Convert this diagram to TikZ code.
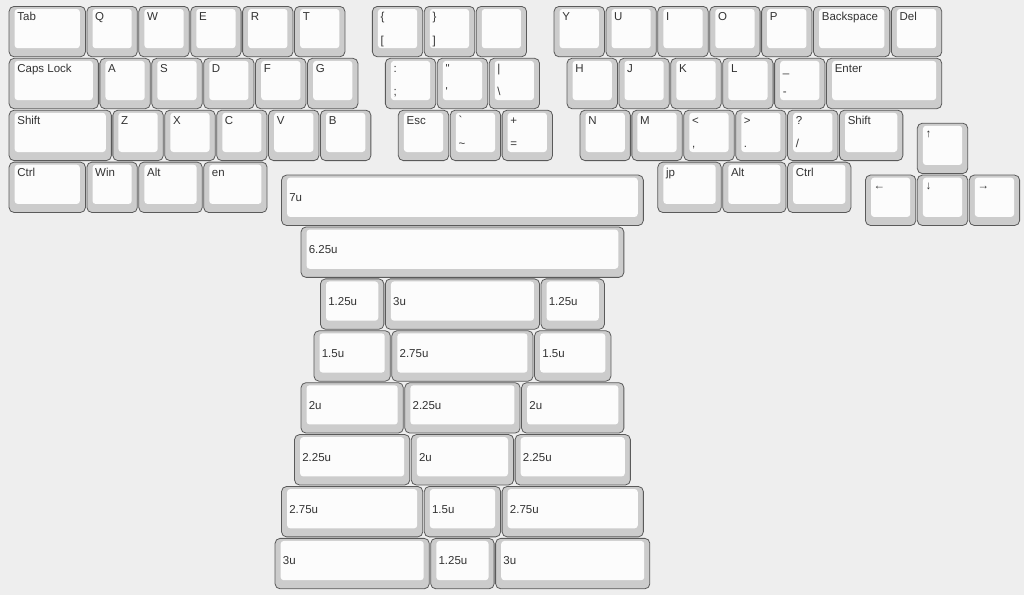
\documentclass[tikz,border=0pt]{standalone}
\usepackage{fontspec}
\usepackage{tikz}
\newfontfamily\kbfont{Liberation Sans}

\definecolor{kbbg}{HTML}{EEEEEE}
\definecolor{kbside}{HTML}{CCCCCC}
\definecolor{kbedge}{HTML}{5A5A5A}
\definecolor{kbtop}{HTML}{FCFCFC}
\definecolor{kbtext}{HTML}{333333}

\tikzset{
  keycap/.style={draw=kbedge, fill=kbside, line width=0.8pt, rounded corners=5pt,
    minimum height=50.4pt, inner sep=0pt, anchor=north west},
  keytop/.style={fill=kbtop, rounded corners=3pt},
  legend/.style={anchor=base west, inner sep=0pt, text=kbtext,
    font=\kbfont\fontsize{11.5}{13}\selectfont},
}

% cap: name, x, y, width (in units of 51.9px)
\newcommand\kbcap[4]{%
  \node[keycap, minimum width={#4*51.9-1.5}] (#1) at ({8.67+51.9*#2},{6+51.9*#3}) {};
  \fill[keytop] ([xshift=6pt,yshift=-3pt]#1.north west) rectangle ([xshift=-6pt,yshift=9pt]#1.south east);
}
% key with top and bottom legend
\newcommand\kbkey[6]{%
  \kbcap{#1}{#2}{#3}{#4}
  \node[legend] (#1-t) at ([xshift=8.5pt,yshift=-14.7pt]#1.north west) {#5};
  \if\relax\detokenize{#6}\relax\else
  \node[legend] (#1-b) at ([xshift=8.5pt,yshift=-38pt]#1.north west) {#6};\fi
}
% spacebar with its size
\newcommand\kbbar[4]{%
  \kbcap{#1}{#2}{#3}{#4}
  \node[legend] (#1-t) at ([xshift=8pt,yshift=-27pt]#1.north west) {#4u};
}

\begin{document}
\begin{tikzpicture}[x=1pt, y=-1pt]
\fill[kbbg] (0,0) rectangle (1024,595);
\useasboundingbox (0,0) rectangle (1024,595);

% number row is gone: top row
\foreach \n/\x/\w/\a/\b in {tab/0/1.5/Tab/{}, q/1.5/1/Q/{}, w/2.5/1/W/{}, e/3.5/1/E/{}, r/4.5/1/R/{}, t/5.5/1/T/{},
  lbrace/7/1/\{/[, rbrace/8/1/\}/], blank/9/1/{}/{},
  y/10.5/1/Y/{}, u/11.5/1/U/{}, i/12.5/1/I/{}, o/13.5/1/O/{}, p/14.5/1/P/{}, bksp/15.5/1.5/Backspace/{}, del/17/1/Del/{}}
  \kbkey{\n}{\x}{0}{\w}{\a}{\b};

% home row
\foreach \n/\x/\w/\a/\b in {caps/0/1.75/Caps Lock/{}, a/1.75/1/A/{}, s/2.75/1/S/{}, d/3.75/1/D/{}, f/4.75/1/F/{}, g/5.75/1/G/{},
  colon/7.25/1/:/;, quote/8.25/1/\textquotedbl/\textquotesingle, pipe/9.25/1/|/\textbackslash,
  h/10.75/1/H/{}, j/11.75/1/J/{}, k/12.75/1/K/{}, l/13.75/1/L/{}, minus/14.75/1/\_/-, enter/15.75/2.25/Enter/{}}
  \kbkey{\n}{\x}{1}{\w}{\a}{\b};

% shift row
\foreach \n/\x/\w/\a/\b in {lshift/0/2/Shift/{}, z/2/1/Z/{}, x/3/1/X/{}, c/4/1/C/{}, v/5/1/V/{}, b/6/1/B/{},
  esc/7.5/1/Esc/{}, tilde/8.5/1/\textasciigrave/\textasciitilde, plus/9.5/1/+/=,
  n/11/1/N/{}, m/12/1/M/{}, comma/13/1/</{,}, period/14/1/>/., slash/15/1/?/\slash, rshift/16/1.25/Shift/{}}
  \kbkey{\n}{\x}{2}{\w}{\a}{\b};

% bottom row
\foreach \n/\x/\w/\a in {lctrl/0/1.5/Ctrl, win/1.5/1/Win, lalt/2.5/1.25/Alt, en/3.75/1.25/en,
  jp/12.5/1.25/jp, ralt/13.75/1.25/Alt, rctrl/15/1.25/Ctrl}
  \kbkey{\n}{\x}{3}{\w}{\a}{};

% arrows
\kbkey{up}{17.5}{2.25}{1}{↑}{}
\foreach \n/\x/\a in {left/16.5/←, down/17.5/↓, right/18.5/→}
  \kbkey{\n}{\x}{3.25}{1}{\a}{};

% spacebar options
\foreach \x/\y/\w [count=\i] in {5.25/3.25/7, 5.625/4.25/6.25,
  6/5.25/1.25, 7.25/5.25/3, 10.25/5.25/1.25,
  5.875/6.25/1.5, 7.375/6.25/2.75, 10.125/6.25/1.5,
  5.625/7.25/2, 7.625/7.25/2.25, 9.875/7.25/2,
  5.5/8.25/2.25, 7.75/8.25/2, 9.75/8.25/2.25,
  5.25/9.25/2.75, 8/9.25/1.5, 9.5/9.25/2.75,
  5.125/10.25/3, 8.125/10.25/1.25, 9.375/10.25/3}
  \kbbar{sp\i}{\x}{\y}{\w};
\end{tikzpicture}
\end{document}
